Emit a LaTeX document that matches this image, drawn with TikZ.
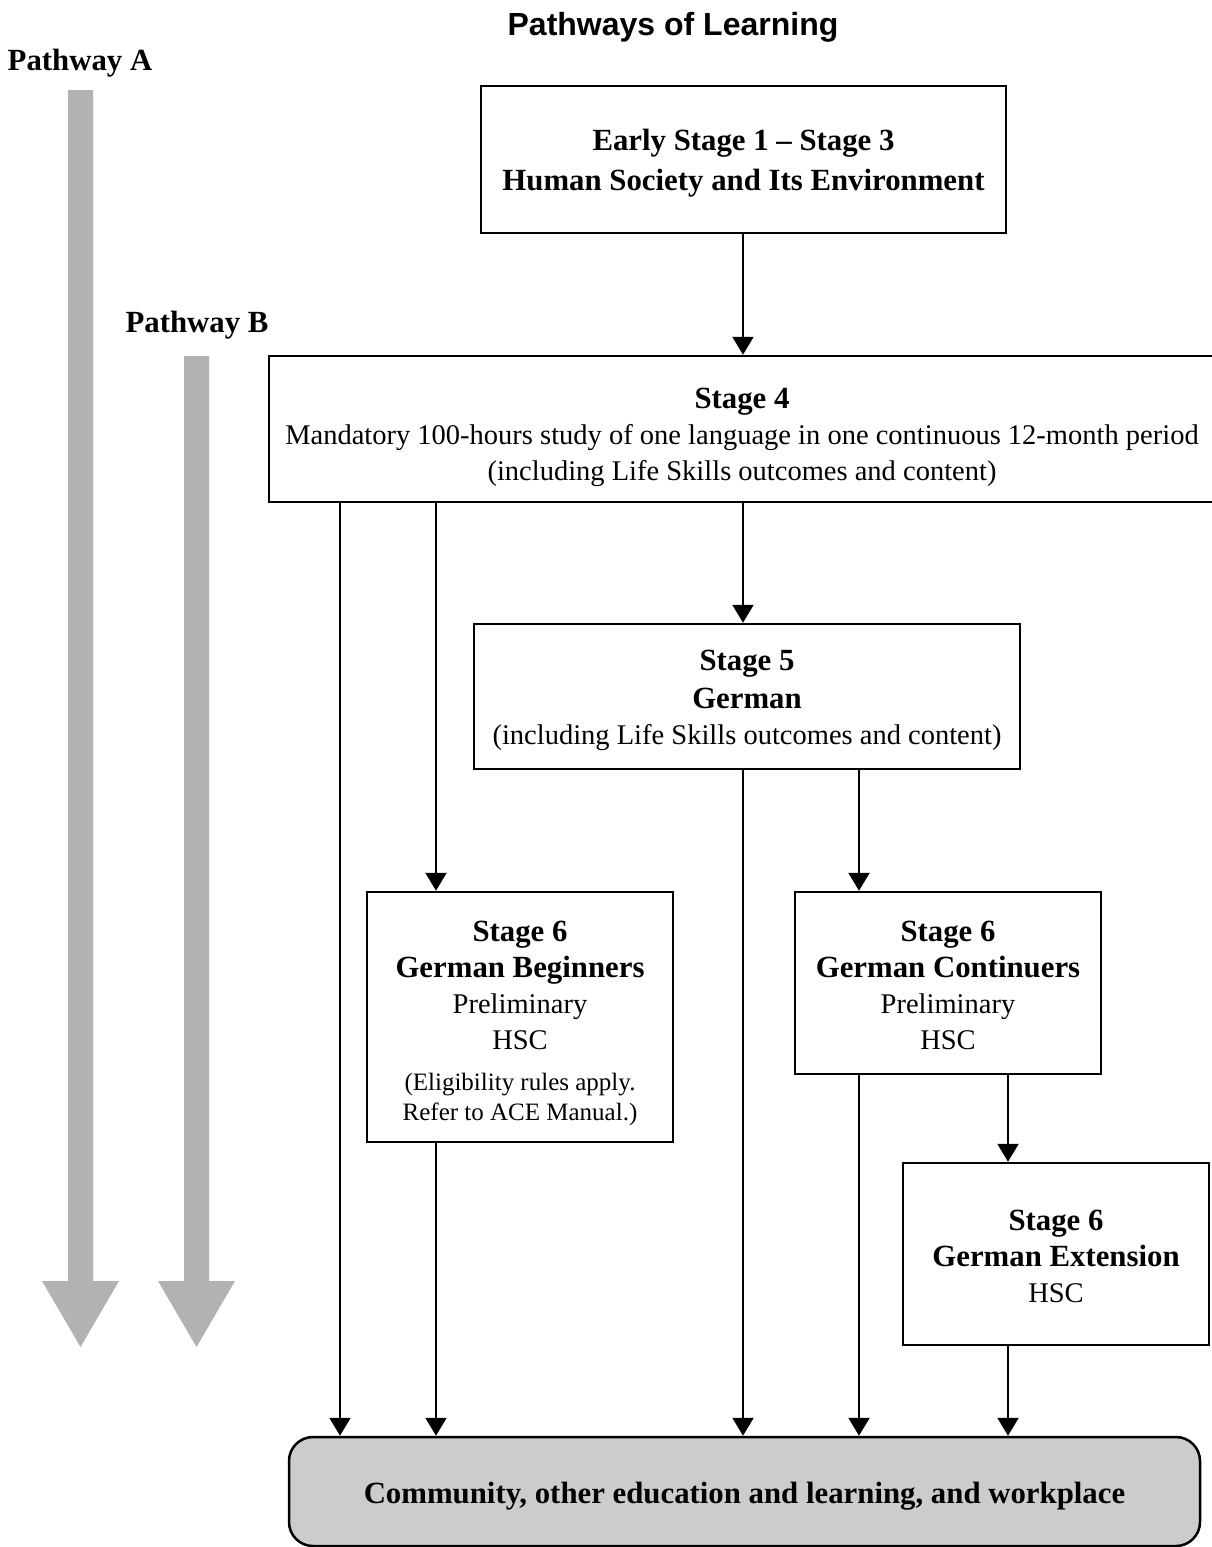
\documentclass[tikz,border=0pt]{standalone}
\usepackage{fontspec}
\setmainfont{Liberation Serif}
\newfontfamily\titlefont{Liberation Sans}
\usetikzlibrary{arrows.meta}
\newcommand\regf{\fontsize{28.5}{36}\selectfont}
\newcommand\bfl{\fontsize{30.8}{36}\selectfont\bfseries}
\newcommand\smallf{\fontsize{25}{30}\selectfont}
\tikzset{
  box/.style={draw, line width=2.5pt, inner sep=0pt},
  txt/.style={inner sep=0pt, align=center, font=\regf},
  conn/.style={line width=2.2pt, -{Triangle[width=21pt,length=18pt]}},
  bigarrow/.style={fill=black!30, draw=none},
  pwlabel/.style={font=\bfl, inner sep=0pt},
}
\begin{document}
\begin{tikzpicture}[x=1pt,y=-1pt]
\useasboundingbox (0,0) rectangle (1212,1547);
% title and pathway labels
\node[font=\titlefont\fontsize{32}{38}\selectfont\bfseries, inner sep=0pt] (title) at (673,27) {Pathways of Learning};
\node[pwlabel] (pwA) at (80,63) {Pathway A};
\node[pwlabel] (pwB) at (197,325) {Pathway B};
% big gray arrows
\fill[bigarrow] (68,90) -- (93,90) -- (93,1281) -- (119,1281) -- (80.5,1347) -- (42,1281) -- (68,1281) -- cycle;
\fill[bigarrow] (184,356) -- (209,356) -- (209,1281) -- (235,1281) -- (196.5,1347) -- (158,1281) -- (184,1281) -- cycle;
% boxes
\node[box, minimum width=525, minimum height=147] (b1) at (743.5,159.5) {};
\node[txt] (t1) at ([yshift=-4pt]b1.center)
  {{\bfl Early Stage 1 -- Stage 3}\\[4pt]{\bfl Human Society and Its Environment}};
\node[box, minimum width=946, minimum height=146] (b4) at (742,429) {};
\node[txt] (t4) at ([yshift=-8pt]b4.center)
  {{\bfl Stage 4}\\Mandatory 100-hours study of one language in one continuous 12-month period\\(including Life Skills outcomes and content)};
\node[box, minimum width=546, minimum height=145] (b5) at (747,696.5) {};
\node[txt] (t5) at ([yshift=-4pt]b5.center)
  {{\bfl Stage 5}\\[2pt]{\bfl German}\\(including Life Skills outcomes and content)};
\node[box, minimum width=306, minimum height=250] (b6b) at (520,1017) {};
\node[txt] (t6b) at ([yshift=-6pt]b6b.center)
  {{\bfl Stage 6}\\{\bfl German Beginners}\\Preliminary\\HSC\\[5pt]{\smallf (Eligibility rules apply.}\\[-6pt]{\smallf Refer to ACE Manual.)}};
\node[box, minimum width=306, minimum height=182] (b6c) at (948,983) {};
\node[txt] (t6c) at ([yshift=-2pt]b6c.center)
  {{\bfl Stage 6}\\{\bfl German Continuers}\\Preliminary\\HSC};
\node[box, minimum width=306, minimum height=182] (b6e) at (1056,1254) {};
\node[txt] (t6e) at ([yshift=-2pt]b6e.center)
  {{\bfl Stage 6}\\{\bfl German Extension}\\HSC};
\node[box, fill=black!20, rounded corners=24pt, minimum width=911, minimum height=109] (comm) at (744.5,1491.5) {};
\node[txt, font=\bfl] (tc) at ([yshift=-5pt]comm.center)
  {Community, other education and learning, and workplace};
% column coordinates
\coordinate (xA) at (340,0);
\coordinate (xB) at (436,0);
\coordinate (xC) at (743,0);
\coordinate (xD) at (859,0);
\coordinate (xE) at (1008,0);
% connectors
\draw[conn] (b1.south -| xC) -- (b4.north -| xC);
\draw[conn] (b4.south -| xA) -- (comm.north -| xA);
\draw[conn] (b4.south -| xB) -- (b6b.north -| xB);
\draw[conn] (b4.south -| xC) -- (b5.north -| xC);
\draw[conn] (b5.south -| xC) -- (comm.north -| xC);
\draw[conn] (b5.south -| xD) -- (b6c.north -| xD);
\draw[conn] (b6b.south -| xB) -- (comm.north -| xB);
\draw[conn] (b6c.south -| xD) -- (comm.north -| xD);
\draw[conn] (b6c.south -| xE) -- (b6e.north -| xE);
\draw[conn] (b6e.south -| xE) -- (comm.north -| xE);
\end{tikzpicture}
\end{document}
